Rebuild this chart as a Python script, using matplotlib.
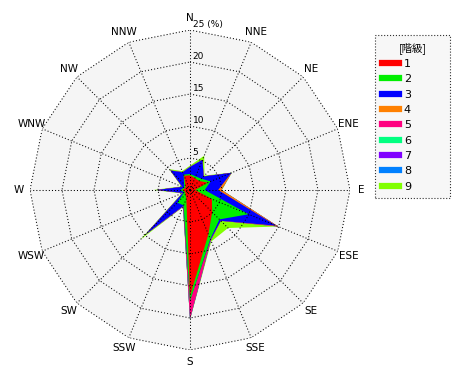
import numpy as np
import matplotlib.pyplot as plt
from matplotlib.lines import Line2D

plt.rcParams['font.family'] = ['DejaVu Sans', 'Noto Sans CJK JP']

# 16方位
directions = ['N', 'NNE', 'NE', 'ENE', 'E', 'ESE', 'SE', 'SSE',
              'S', 'SSW', 'SW', 'WSW', 'W', 'WNW', 'NW', 'NNW']
classes = ['1', '2', '3', '4', '5', '6', '7', '8', '9']
colors = ['#ff0000', '#00ee00', '#0000ff', '#ff8000', '#ff0080',
          '#00ff80', '#8000ff', '#0080ff', '#80ff00']

# 階級別の出現率 (%)  N, NNE, NE, ENE, E, ESE, SE, SSE, S, SSW, SW, WSW, W, WNW, NW, NNW
c1 = [2.3, 2.0, 2.0, 3.0, 0.8, 3.7, 4.9, 7.5, 16.6, 1.5, 1.0, 0.8, 1.2, 0.8, 1.0, 2.4]
c2 = [0.2, 0.3, 0.5, 0.5, 1.5, 6.2, 1.6, 0.8, 0.7, 1.1, 1.8, 0.2, 0.3, 0.2, 0.3, 0.2]
c3 = [1.1, 2.8, 0.5, 3.5, 2.1, 4.7, 0.3, 0.1, 0.0, 0.1, 7.0, 0.2, 3.7, 0.3, 3.0, 0.4]
c4 = [0.0, 0.0, 0.0, 0.0, 0.5, 0.3, 0.0, 0.0, 0.1, 0.0, 0.0, 0.0, 0.0, 0.0, 0.0, 0.0]
c5 = [0.0, 0.0, 0.0, 0.0, 0.0, 0.0, 0.0, 0.1, 2.8, 0.1, 0.0, 0.0, 0.0, 0.0, 0.0, 0.0]
c6 = [0.0] * 16
c7 = [0.0] * 16
c8 = [0.0] * 16
c9 = [0.2, 0.7, 0.2, 0.1, 0.1, 0.0, 1.6, 0.2, 0.1, 0.1, 1.2, 0.2, 0.5, 0.2, 0.3, 0.2]

ring_values = [5, 10, 15, 20, 25]
ring_labels = ['5', '10', '15', '20', '25 (%)']

theta = np.deg2rad(np.arange(16) * 22.5)
theta_c = np.append(theta, theta[0])

fig = plt.figure(figsize=(4.7, 3.8), dpi=100)
ax = fig.add_axes([30 / 470, 30 / 380, 320 / 470, 320 / 380], projection='polar')
ax.set_theta_zero_location('N')
ax.set_theta_direction(-1)
ax.axis('off')

# 背景
ax.fill(theta_c, [25] * 17, color='#f5f5f5', lw=0, zorder=0)

# 積み上げ
cum = np.cumsum(np.array([c1, c2, c3, c4, c5, c6, c7, c8, c9]), axis=0)
for i in reversed(range(9)):
    ax.fill(theta_c, np.append(cum[i], cum[i][0]), color=colors[i], lw=0, zorder=2)

# グリッド
dot = (0, (1, 2))
for r in ring_values:
    ax.plot(theta_c, [r] * 17, color='black', ls=dot, lw=0.75, zorder=3)
for t in theta:
    ax.plot([t, t], [0, 25], color='black', ls=dot, lw=0.75, zorder=3)

for r, lab in zip(ring_values, ring_labels):
    ax.annotate(lab, xy=(0, r), xytext=(2, 1), textcoords='offset points',
                fontsize=6.5, ha='left', va='bottom', zorder=4)

for t, d in zip(theta, directions):
    ax.text(t, 26.8, d, ha='center', va='center', fontsize=7.5, clip_on=False)

ax.set_ylim(0, 25)

handles = [Line2D([0], [0], color=c, lw=4.5) for c in colors]
leg = fig.legend(handles, classes, title='[階級]', loc='upper left',
                 bbox_to_anchor=(375 / 470, 1 - 35 / 380, 75 / 470, 0.0),
                 bbox_transform=fig.transFigure, mode='expand',
                 frameon=True, fancybox=False, fontsize=8, title_fontsize=7.5,
                 handlelength=1.6, handletextpad=0.4, labelspacing=0.48,
                 borderpad=0.6, borderaxespad=0)
leg.get_frame().set_linestyle(':')
leg.get_frame().set_edgecolor('black')
leg.get_frame().set_facecolor('#f5f5f5')
leg.get_frame().set_linewidth(0.8)
leg.get_title().set_family(['Noto Sans CJK JP', 'DejaVu Sans'])

fig.savefig('out.png', dpi=100)
